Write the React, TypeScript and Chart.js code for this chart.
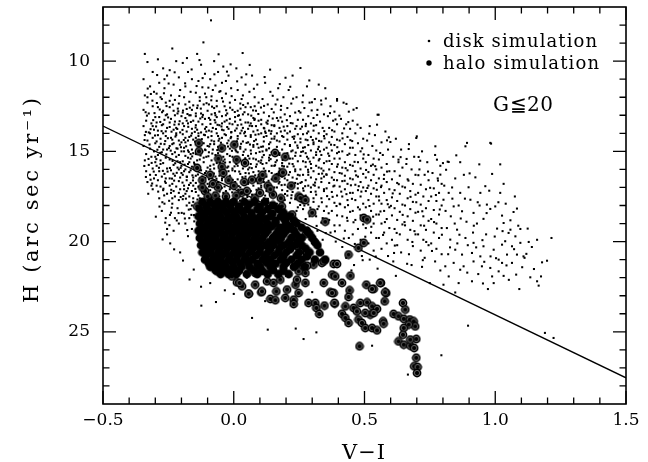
import { useEffect, useRef } from "react";
import { Chart, registerables } from "chart.js";

Chart.register(...registerables);

// Axis ticks
const xTickValues = [-0.5, 0, 0.5, 1.0, 1.5];
const yTickValues = [10, 15, 20, 25];

// Separating line in the reduced proper motion diagram
const fitLineVI = [-0.5, 1.5];
const fitLineH = [13.6, 27.55];

// Disk simulation stars: [V-I, H]
const diskPoints: [number, number][] = [
  [-0.34,9.6],[-0.33,10.05],[-0.31,10.6],[-0.345,11.0],[-0.32,11.4],[-0.305,11.7],[-0.34,11.9],[-0.33,12.3],[-0.31,12.5],[-0.345,12.7],[-0.325,12.9],[-0.3,13.1],[-0.335,13.3],[-0.315,13.45],[-0.345,13.6],[-0.305,13.8],[-0.325,13.95],[-0.34,14.1],[-0.31,14.25],[-0.33,14.4],[-0.3,14.55],[-0.345,14.7],[-0.32,14.85],[-0.305,15.0],[-0.335,15.15],[-0.315,15.3],[-0.34,15.5],[-0.3,15.6],[-0.325,15.75],[-0.31,15.95],[-0.335,16.1],[-0.32,16.3],[-0.305,16.5],[-0.33,16.7],[-0.315,16.9],[-0.31,17.1],[-0.33,12.0],[-0.31,13.6],[-0.32,14.0],[-0.3,15.3],
  [-0.29,9.9],[-0.27,10.4],[-0.255,10.8],[-0.285,11.2],[-0.265,11.5],[-0.295,11.8],[-0.275,12.1],[-0.26,12.3],[-0.29,12.55],[-0.27,12.75],[-0.255,12.95],[-0.285,13.1],[-0.265,13.25],[-0.295,13.4],[-0.275,13.55],[-0.255,13.7],[-0.29,13.85],[-0.27,14.0],[-0.26,14.15],[-0.28,14.3],[-0.295,14.45],[-0.265,14.6],[-0.285,14.75],[-0.255,14.9],[-0.275,15.05],[-0.29,15.2],[-0.26,15.35],[-0.28,15.5],[-0.27,15.65],[-0.295,15.8],[-0.255,15.95],[-0.285,16.1],[-0.265,16.25],[-0.275,16.4],[-0.29,16.6],[-0.26,16.75],[-0.28,16.95],[-0.27,17.15],[-0.255,17.35],[-0.285,17.6],[-0.265,17.9],[-0.275,18.3],[-0.26,18.7],[-0.255,19.3],[-0.28,12.0],[-0.26,13.0],[-0.29,14.1],[-0.27,14.9],[-0.28,15.7],[-0.26,16.5],[-0.295,16.9],[-0.27,13.5],[-0.265,11.0],
  [-0.235,9.3],[-0.22,10.0],[-0.245,10.5],[-0.21,10.9],[-0.23,11.3],[-0.205,11.6],[-0.24,11.9],[-0.225,12.15],[-0.21,12.35],[-0.245,12.55],[-0.23,12.75],[-0.215,12.9],[-0.2,13.05],[-0.24,13.2],[-0.225,13.35],[-0.21,13.5],[-0.245,13.65],[-0.23,13.8],[-0.205,13.95],[-0.22,14.1],[-0.24,14.25],[-0.21,14.4],[-0.23,14.55],[-0.245,14.7],[-0.215,14.85],[-0.2,15.0],[-0.235,15.15],[-0.22,15.3],[-0.245,15.45],[-0.205,15.6],[-0.23,15.75],[-0.215,15.9],[-0.24,16.05],[-0.2,16.2],[-0.225,16.35],[-0.245,16.5],[-0.21,16.65],[-0.235,16.8],[-0.22,16.95],[-0.205,17.1],[-0.24,17.3],[-0.225,17.5],[-0.21,17.7],[-0.235,17.9],[-0.215,18.15],[-0.24,18.4],[-0.225,18.7],[-0.21,19.0],[-0.243,20.1],[-0.255,19.6],[-0.23,19.4],[-0.205,20.6],[-0.22,14.0],[-0.235,14.6],[-0.21,15.2],[-0.2,15.8],[-0.225,13.0],[-0.245,12.2],[-0.21,16.0],[-0.23,17.2],
  [-0.195,10.1],[-0.175,10.6],[-0.16,11.0],[-0.185,11.4],[-0.165,11.7],[-0.19,12.0],[-0.17,12.25],[-0.155,12.45],[-0.18,12.65],[-0.195,12.85],[-0.165,13.0],[-0.185,13.15],[-0.155,13.3],[-0.175,13.45],[-0.19,13.6],[-0.16,13.75],[-0.18,13.9],[-0.195,14.05],[-0.17,14.2],[-0.155,14.35],[-0.185,14.5],[-0.165,14.65],[-0.19,14.8],[-0.175,14.95],[-0.155,15.1],[-0.185,15.25],[-0.165,15.4],[-0.195,15.55],[-0.175,15.7],[-0.16,15.85],[-0.185,16.0],[-0.17,16.15],[-0.195,16.3],[-0.155,16.45],[-0.18,16.6],[-0.165,16.75],[-0.19,16.9],[-0.175,17.05],[-0.16,17.2],[-0.185,17.35],[-0.17,17.5],[-0.195,17.65],[-0.155,17.8],[-0.18,18.0],[-0.165,18.2],[-0.19,18.45],[-0.17,18.7],[-0.185,19.0],[-0.16,19.3],[-0.175,19.7],[-0.194,21.05],[-0.169,22.1],[-0.153,21.55],[-0.18,13.3],[-0.16,14.0],[-0.19,15.0],[-0.17,15.6],[-0.18,16.4],[-0.155,16.9],[-0.17,13.0],[-0.185,12.4],[-0.16,12.7],[-0.175,14.4],[-0.165,15.15],[-0.19,17.1],[-0.16,18.0],
  [-0.116,8.96],[-0.14,9.6],[-0.125,10.2],[-0.11,10.7],[-0.135,11.1],[-0.12,11.45],[-0.145,11.75],[-0.105,12.0],[-0.13,12.2],[-0.115,12.4],[-0.14,12.6],[-0.1,12.75],[-0.125,12.9],[-0.145,13.05],[-0.11,13.2],[-0.135,13.35],[-0.12,13.5],[-0.105,13.65],[-0.14,13.8],[-0.125,13.95],[-0.11,14.1],[-0.145,14.25],[-0.13,14.4],[-0.115,14.55],[-0.1,14.7],[-0.135,14.85],[-0.12,15.0],[-0.145,15.15],[-0.105,15.3],[-0.13,15.45],[-0.115,15.6],[-0.14,15.75],[-0.1,15.9],[-0.125,16.05],[-0.11,16.2],[-0.145,16.35],[-0.13,16.5],[-0.115,16.65],[-0.1,16.8],[-0.135,16.95],[-0.12,17.1],[-0.145,17.25],[-0.105,17.4],[-0.13,17.6],[-0.115,17.8],[-0.125,22.5],[-0.124,23.55],[-0.12,13.1],[-0.135,14.0],[-0.11,14.9],[-0.14,15.5],[-0.12,16.4],[-0.105,13.9],[-0.13,12.0],[-0.145,12.9],[-0.11,11.8],
  [-0.087,7.74],[-0.075,10.0],[-0.06,10.6],[-0.09,11.0],[-0.07,11.35],[-0.055,11.7],[-0.085,11.95],[-0.065,12.2],[-0.095,12.4],[-0.075,12.6],[-0.055,12.8],[-0.085,12.95],[-0.065,13.1],[-0.09,13.25],[-0.07,13.4],[-0.055,13.55],[-0.08,13.7],[-0.095,13.85],[-0.065,14.0],[-0.085,14.15],[-0.055,14.3],[-0.075,14.45],[-0.09,14.6],[-0.06,14.75],[-0.08,14.9],[-0.095,15.05],[-0.07,15.2],[-0.055,15.35],[-0.085,15.5],[-0.065,15.65],[-0.09,15.8],[-0.075,15.95],[-0.055,16.1],[-0.085,16.25],[-0.07,16.4],[-0.095,16.55],[-0.06,16.7],[-0.08,16.85],[-0.065,17.0],[-0.09,17.15],[-0.075,17.3],[-0.055,17.5],[-0.068,23.35],[-0.09,22.3],[-0.07,13.0],[-0.085,14.4],[-0.06,15.1],[-0.09,16.0],[-0.065,12.5],[-0.08,11.6],
  [-0.04,10.3],[-0.02,10.8],[-0.045,11.2],[-0.01,11.5],[-0.03,11.8],[-0.045,12.05],[-0.015,12.3],[-0.035,12.5],[-0.005,12.7],[-0.025,12.9],[-0.045,13.05],[-0.015,13.2],[-0.035,13.35],[-0.005,13.5],[-0.025,13.65],[-0.045,13.8],[-0.01,13.95],[-0.03,14.1],[-0.045,14.25],[-0.02,14.4],[-0.005,14.55],[-0.035,14.7],[-0.015,14.85],[-0.045,15.0],[-0.025,15.15],[-0.005,15.3],[-0.035,15.45],[-0.015,15.6],[-0.045,15.75],[-0.025,15.9],[-0.005,16.05],[-0.035,16.2],[-0.015,16.35],[-0.045,16.5],[-0.025,16.65],[-0.005,16.8],[-0.035,16.95],[-0.015,17.1],[-0.04,17.3],[-0.02,17.5],[-0.034,22.7],[-0.03,13.0],[-0.01,14.2],[-0.04,15.3],[-0.02,16.1],[-0.03,11.1],
  [0.034,9.55],[0.01,10.4],[0.03,10.9],[0.045,11.3],[0.015,11.6],[0.035,11.9],[0.005,12.15],[0.025,12.35],[0.045,12.55],[0.015,12.75],[0.035,12.95],[0.005,13.1],[0.025,13.25],[0.045,13.4],[0.015,13.55],[0.035,13.7],[0.005,13.85],[0.025,14.0],[0.045,14.15],[0.015,14.3],[0.035,14.45],[0.005,14.6],[0.025,14.75],[0.045,14.9],[0.015,15.05],[0.035,15.2],[0.005,15.35],[0.025,15.5],[0.045,15.65],[0.015,15.8],[0.035,15.95],[0.005,16.1],[0.025,16.25],[0.045,16.4],[0.015,16.55],[0.035,16.7],[0.005,16.85],[0.025,17.0],[0.045,17.2],[0.015,17.4],[0.035,17.6],[0.02,13.0],[0.04,14.0],[0.01,15.0],[0.03,12.1],
  [0.07,10.8],[0.09,11.3],[0.06,11.7],[0.08,12.0],[0.095,12.3],[0.065,12.55],[0.085,12.75],[0.055,12.95],[0.075,13.15],[0.095,13.3],[0.065,13.45],[0.085,13.6],[0.055,13.75],[0.075,13.9],[0.095,14.05],[0.065,14.2],[0.085,14.35],[0.055,14.5],[0.075,14.65],[0.095,14.8],[0.065,14.95],[0.085,15.1],[0.055,15.25],[0.075,15.4],[0.095,15.55],[0.065,15.7],[0.085,15.85],[0.055,16.0],[0.075,16.15],[0.095,16.3],[0.065,16.45],[0.085,16.6],[0.055,16.75],[0.075,16.9],[0.095,17.05],[0.065,17.2],[0.085,17.4],[0.07,24.23],[0.07,13.6],[0.09,14.6],[0.06,15.4],[0.08,12.5],
  [0.12,11.2],[0.14,11.7],[0.11,12.1],[0.13,12.4],[0.145,12.65],[0.115,12.85],[0.135,13.05],[0.105,13.25],[0.125,13.4],[0.145,13.55],[0.115,13.7],[0.135,13.85],[0.105,14.0],[0.125,14.15],[0.145,14.3],[0.115,14.45],[0.135,14.6],[0.105,14.75],[0.125,14.9],[0.145,15.05],[0.115,15.2],[0.135,15.35],[0.105,15.5],[0.125,15.65],[0.145,15.8],[0.115,15.95],[0.135,16.1],[0.105,16.25],[0.125,16.4],[0.145,16.55],[0.115,16.7],[0.135,16.85],[0.105,17.0],[0.125,17.2],[0.145,17.4],[0.115,17.6],[0.13,24.88],[0.12,13.9],[0.14,14.5],[0.11,15.7],
  [0.17,11.5],[0.19,12.0],[0.16,12.4],[0.18,12.7],[0.195,12.95],[0.165,13.15],[0.185,13.35],[0.155,13.55],[0.175,13.7],[0.195,13.85],[0.165,14.0],[0.185,14.15],[0.155,14.3],[0.175,14.45],[0.195,14.6],[0.165,14.75],[0.185,14.9],[0.155,15.05],[0.175,15.2],[0.195,15.35],[0.165,15.5],[0.185,15.65],[0.155,15.8],[0.175,15.95],[0.195,16.1],[0.165,16.25],[0.185,16.4],[0.155,16.55],[0.175,16.7],[0.195,16.85],[0.165,17.0],[0.185,17.15],[0.155,17.3],[0.175,17.5],[0.195,17.7],[0.165,17.9],[0.185,18.1],[0.17,13.3],[0.19,14.2],[0.16,15.6],
  [0.225,10.8],[0.21,11.6],[0.24,12.0],[0.22,12.35],[0.205,12.6],[0.235,12.85],[0.215,13.05],[0.245,13.25],[0.225,13.45],[0.205,13.6],[0.235,13.75],[0.215,13.9],[0.245,14.05],[0.225,14.2],[0.205,14.35],[0.235,14.5],[0.215,14.65],[0.245,14.8],[0.225,14.95],[0.205,15.1],[0.235,15.25],[0.215,15.4],[0.245,15.55],[0.225,15.7],[0.205,15.85],[0.235,16.0],[0.215,16.15],[0.245,16.3],[0.225,16.45],[0.205,16.6],[0.235,16.75],[0.215,16.9],[0.245,17.05],[0.225,17.25],[0.205,17.45],[0.235,17.65],[0.215,17.85],[0.245,18.1],[0.225,18.35],[0.21,18.7],[0.237,24.82],[0.24,13.6],[0.22,15.0],
  [0.255,10.38],[0.28,11.4],[0.265,11.9],[0.29,12.3],[0.27,12.6],[0.255,12.85],[0.285,13.05],[0.265,13.25],[0.295,13.45],[0.275,13.6],[0.255,13.75],[0.285,13.9],[0.265,14.05],[0.295,14.2],[0.275,14.35],[0.255,14.5],[0.285,14.65],[0.265,14.8],[0.295,14.95],[0.275,15.1],[0.255,15.25],[0.285,15.4],[0.265,15.55],[0.295,15.7],[0.275,15.85],[0.255,16.0],[0.285,16.15],[0.265,16.3],[0.295,16.45],[0.275,16.6],[0.255,16.75],[0.285,16.9],[0.265,17.05],[0.295,17.25],[0.275,17.45],[0.255,17.7],[0.285,17.95],[0.265,18.2],[0.295,18.45],[0.275,18.75],[0.26,19.1],[0.29,19.5],[0.267,25.4],[0.28,14.0],
  [0.325,11.3],[0.35,11.5],[0.31,12.1],[0.335,12.4],[0.32,12.7],[0.345,12.95],[0.305,13.15],[0.33,13.35],[0.315,13.55],[0.34,13.7],[0.305,13.85],[0.325,14.0],[0.345,14.15],[0.315,14.3],[0.335,14.45],[0.305,14.6],[0.325,14.75],[0.345,14.9],[0.315,15.05],[0.335,15.2],[0.305,15.35],[0.325,15.5],[0.345,15.65],[0.315,15.8],[0.335,15.95],[0.305,16.1],[0.325,16.25],[0.345,16.4],[0.315,16.55],[0.335,16.7],[0.305,16.85],[0.325,17.0],[0.345,17.2],[0.315,17.4],[0.335,17.6],[0.305,17.8],[0.325,18.05],[0.345,18.3],[0.315,18.6],[0.335,18.95],[0.32,19.4],[0.34,19.9],[0.316,25.03],
  [0.395,12.1],[0.37,12.5],[0.385,12.8],[0.36,13.05],[0.38,13.3],[0.395,13.5],[0.365,13.7],[0.385,13.9],[0.355,14.05],[0.375,14.2],[0.395,14.35],[0.365,14.5],[0.385,14.65],[0.355,14.8],[0.375,14.95],[0.395,15.1],[0.365,15.25],[0.385,15.4],[0.355,15.55],[0.375,15.7],[0.395,15.85],[0.365,16.0],[0.385,16.15],[0.355,16.3],[0.375,16.45],[0.395,16.6],[0.365,16.75],[0.385,16.9],[0.355,17.05],[0.375,17.25],[0.395,17.45],[0.365,17.65],[0.385,17.85],[0.355,18.05],[0.375,18.3],[0.395,18.55],[0.365,18.8],[0.385,19.1],[0.37,19.5],[0.39,20.0],
  [0.42,12.3],[0.44,12.8],[0.41,13.2],[0.43,13.5],[0.445,13.75],[0.415,14.0],[0.435,14.2],[0.405,14.4],[0.425,14.6],[0.445,14.8],[0.415,15.0],[0.435,15.2],[0.405,15.4],[0.425,15.6],[0.445,15.75],[0.415,15.9],[0.435,16.05],[0.405,16.2],[0.425,16.35],[0.445,16.5],[0.415,16.65],[0.435,16.8],[0.405,16.95],[0.425,17.1],[0.445,17.3],[0.415,17.5],[0.435,17.7],[0.405,17.9],[0.425,18.1],[0.445,18.35],[0.415,18.6],[0.435,18.85],[0.405,19.1],[0.425,19.4],[0.44,19.8],[0.415,20.3],[0.43,20.9],
  [0.47,12.6],[0.455,13.3],[0.485,13.7],[0.465,14.0],[0.495,14.3],[0.475,14.55],[0.455,14.8],[0.485,15.0],[0.465,15.2],[0.495,15.4],[0.475,15.6],[0.455,15.8],[0.485,15.95],[0.465,16.1],[0.495,16.25],[0.475,16.4],[0.455,16.55],[0.485,16.7],[0.465,16.85],[0.495,17.0],[0.475,17.15],[0.455,17.3],[0.485,17.5],[0.465,17.7],[0.495,17.9],[0.475,18.1],[0.455,18.3],[0.485,18.55],[0.465,18.8],[0.495,19.05],[0.475,19.3],[0.455,19.6],[0.485,19.9],[0.47,20.3],[0.49,20.8],[0.46,21.3],
  [0.554,12.97],[0.52,13.6],[0.54,14.1],[0.51,14.4],[0.53,14.7],[0.545,14.95],[0.515,15.2],[0.535,15.4],[0.505,15.6],[0.525,15.8],[0.545,16.0],[0.515,16.15],[0.535,16.3],[0.505,16.45],[0.525,16.6],[0.545,16.75],[0.515,16.9],[0.535,17.05],[0.505,17.2],[0.525,17.35],[0.545,17.5],[0.515,17.7],[0.535,17.9],[0.505,18.1],[0.525,18.3],[0.545,18.5],[0.515,18.75],[0.535,19.0],[0.505,19.25],[0.525,19.5],[0.545,19.8],[0.515,20.1],[0.535,20.5],[0.52,21.0],[0.529,25.77],
  [0.58,13.9],[0.565,14.5],[0.59,14.9],[0.57,15.2],[0.555,15.45],[0.585,15.7],[0.565,15.9],[0.595,16.1],[0.575,16.3],[0.555,16.5],[0.585,16.7],[0.565,16.9],[0.595,17.1],[0.575,17.3],[0.555,17.5],[0.585,17.7],[0.565,17.9],[0.595,18.1],[0.575,18.3],[0.555,18.5],[0.585,18.75],[0.565,19.0],[0.595,19.25],[0.575,19.5],[0.555,19.8],[0.585,20.1],[0.565,20.4],[0.59,20.8],
  [0.62,14.3],[0.64,14.9],[0.61,15.3],[0.63,15.6],[0.645,15.9],[0.615,16.1],[0.635,16.35],[0.605,16.55],[0.625,16.75],[0.645,16.95],[0.615,17.15],[0.635,17.35],[0.605,17.55],[0.625,17.75],[0.645,17.95],[0.615,18.15],[0.635,18.35],[0.605,18.55],[0.625,18.8],[0.645,19.05],[0.615,19.3],[0.635,19.6],[0.605,19.9],[0.625,20.2],[0.64,20.6],[0.61,21.1],
  [0.67,14.6],[0.69,15.3],[0.66,15.7],[0.68,16.0],[0.695,16.3],[0.665,16.55],[0.685,16.8],[0.655,17.0],[0.675,17.2],[0.695,17.4],[0.665,17.6],[0.685,17.8],[0.655,18.0],[0.675,18.2],[0.695,18.4],[0.665,18.6],[0.685,18.85],[0.655,19.1],[0.675,19.35],[0.695,19.6],[0.665,19.9],[0.685,20.25],[0.67,20.7],[0.666,27.37],
  [0.72,15.0],[0.74,15.6],[0.71,16.0],[0.73,16.3],[0.745,16.6],[0.715,16.85],[0.735,17.1],[0.705,17.3],[0.725,17.5],[0.745,17.75],[0.715,17.95],[0.735,18.15],[0.705,18.35],[0.725,18.6],[0.745,18.85],[0.715,19.1],[0.735,19.35],[0.705,19.6],[0.725,19.9],[0.745,20.2],[0.715,20.5],[0.73,20.9],[0.72,21.4],
  [0.77,15.2],[0.79,15.8],[0.76,16.2],[0.78,16.5],[0.795,16.8],[0.765,17.05],[0.785,17.3],[0.755,17.5],[0.775,17.75],[0.795,18.0],[0.765,18.25],[0.785,18.5],[0.755,18.75],[0.775,19.0],[0.795,19.25],[0.765,19.5],[0.785,19.8],[0.755,20.1],[0.775,20.4],[0.795,20.7],[0.77,21.1],[0.79,21.6],[0.794,26.3],
  [0.8,15.65],[0.79,16.29],[0.822,15.59],[0.847,16.5],[0.822,17.3],[0.802,17.68],[0.841,18.05],[0.815,19.25],[0.828,19.89],[0.847,20.45],[0.841,21.18],[0.809,21.37],[0.802,22.39],[0.822,21.93],[0.83,18.6],[0.81,18.3],[0.845,19.0],[0.82,20.7],[0.805,16.9],[0.835,17.0],
  [0.886,14.72],[0.866,15.6],[0.898,16.99],[0.866,17.3],[0.905,17.68],[0.873,18.32],[0.854,19.34],[0.886,19.8],[0.873,20.72],[0.879,21.37],[0.86,22.3],[0.866,21.56],[0.896,24.66],[0.89,18.9],[0.86,18.0],[0.88,16.3],[0.895,20.2],[0.855,20.1],
  [0.939,15.72],[0.924,16.44],[0.943,17.3],[0.917,18.41],[0.917,20.07],[0.911,20.63],[0.943,20.82],[0.949,21.37],[0.917,21.1],[0.911,22.2],[0.93,19.0],[0.94,18.0],[0.915,19.5],[0.935,21.8],
  [0.984,14.57],[0.988,16.25],[0.977,17.18],[0.962,16.93],[1.0,18.05],[0.968,17.95],[0.981,18.19],[0.955,18.74],[1.007,19.28],[0.955,20.26],[0.994,20.45],[0.981,21.46],[0.988,21.93],[0.994,22.3],[0.972,22.63],[0.965,19.6],
  [1.019,15.72],[1.032,16.8],[1.019,17.3],[1.026,18.56],[1.032,18.97],[1.038,19.98],[1.026,20.17],[1.045,20.72],[1.013,21.0],[1.026,21.18],[1.013,21.65],[1.032,21.9],[1.051,19.52],[1.04,17.9],
  [1.07,18.36],[1.083,18.17],[1.058,19.34],[1.077,19.71],[1.096,20.07],[1.064,20.26],[1.083,20.72],[1.064,21.18],[1.08,21.83],[1.092,22.63],[1.096,19.3],[1.075,17.5],
  [1.124,19.28],[1.119,20.68],[1.112,20.9],[1.108,20.82],[1.134,21.98],[1.16,22.2],[1.166,22.44],[1.175,21.93],[1.179,21.15],[1.198,21.06],[1.215,19.8],[1.19,25.06],[1.223,25.34],[1.14,20.3],[1.16,19.9],
  [0.55,21.5],[0.62,21.9],[0.75,22.3],[0.68,21.3],[0.45,21.6],[0.4,21.3],[0.58,22.6],[0.0,22.9],[0.05,22.0],[0.2,21.9],[0.3,22.8],[0.12,23.3],
  [0.299,12.28],[0.395,12.19],[0.458,12.69],[0.55,12.97],[0.586,14.39],[0.599,14.48],[0.698,14.26],[0.669,14.87],[0.707,15.31],[0.777,15.46],[0.818,15.57],[0.63,15.46],[0.56,15.09],[0.7,14.17],[0.771,14.72],[0.892,14.53],[0.981,14.53],
  [-0.245,13.4],[-0.235,14.35],[-0.225,15.05],[-0.215,15.55],[-0.205,16.45],[-0.245,16.9],[-0.235,17.6],[-0.22,13.7],[-0.2,14.5],[-0.21,17.3],
  [-0.195,13.45],[-0.185,14.25],[-0.175,15.35],[-0.165,16.05],[-0.155,17.6],[-0.19,16.1],[-0.18,17.2],[-0.17,17.85],[-0.16,14.9],[-0.15,15.7],
  [-0.145,13.55],[-0.135,14.15],[-0.125,14.65],[-0.115,15.35],[-0.105,16.1],[-0.145,16.75],[-0.135,17.45],[-0.12,17.9],[-0.1,17.6],[-0.11,13.75],
  [-0.095,13.15],[-0.085,13.9],[-0.075,14.6],[-0.065,15.45],[-0.055,16.35],[-0.095,16.95],[-0.085,17.55],[-0.07,17.75],[-0.06,14.15],[-0.05,15.85],
  [-0.045,13.45],[-0.035,14.05],[-0.025,14.55],[-0.015,15.25],[-0.005,15.95],[-0.045,16.6],[-0.03,17.2],[-0.01,17.7],[-0.02,13.75],[-0.04,15.55],
  [0.005,13.35],[0.015,14.15],[0.025,14.85],[0.035,15.55],[0.045,16.2],[0.005,16.7],[0.02,17.3],[0.04,17.8],[0.03,13.85],[0.01,15.7],
  [0.055,13.4],[0.065,14.1],[0.075,14.75],[0.085,15.45],[0.095,16.1],[0.055,16.8],[0.07,17.4],[0.09,17.75],[0.08,13.2],[0.06,15.9],
  [0.105,13.5],[0.115,14.2],[0.125,14.95],[0.135,15.5],[0.145,16.2],[0.105,16.9],[0.12,17.45],[0.14,17.85],[0.13,13.3],[0.11,15.0],
  [0.155,13.6],[0.165,14.4],[0.175,15.1],[0.185,15.8],[0.195,16.5],[0.155,17.0],[0.17,17.6],[0.19,18.0],[0.18,13.9],[0.16,16.3],
  [0.205,14.0],[0.215,14.7],[0.225,15.4],[0.235,16.1],[0.245,16.8],[0.205,17.2],[0.22,17.6],[0.24,18.3],[0.23,14.3],[0.21,16.3],
  [0.255,14.3],[0.265,15.0],[0.275,15.6],[0.285,16.3],[0.295,17.0],[0.255,17.4],[0.27,18.0],[0.29,18.6],[0.28,15.3],[0.26,16.7],
  [0.305,14.5],[0.315,15.2],[0.325,15.9],[0.335,16.5],[0.345,17.1],[0.305,17.6],[0.32,18.2],[0.34,18.7],[0.33,15.0],[0.31,16.9],
  [-0.337,12.83],[-0.322,14.62],[-0.308,13.27],[-0.296,15.43],[-0.283,12.68],[-0.271,16.08],[-0.262,14.43],[-0.251,13.12],[-0.244,15.92],[-0.233,12.41],[-0.228,16.62],[-0.219,14.83],[-0.207,13.33],[-0.342,15.81],[-0.318,16.57],[-0.301,14.12],[-0.289,17.23],[-0.276,13.88],[-0.258,15.17],[-0.247,17.74],[-0.238,13.91],[-0.224,15.66],[-0.212,12.78],[-0.203,17.53],[-0.329,11.52],[-0.311,12.19],[-0.293,10.77],[-0.267,11.78],[-0.249,11.24],[-0.226,10.62],[-0.208,11.93],[-0.336,13.92],[-0.314,15.64],[-0.298,16.31],[-0.279,14.58],[-0.266,17.44],[-0.253,16.12],[-0.241,14.96],[-0.231,16.24],[-0.216,13.76],[-0.202,14.77],[-0.327,17.35],[-0.284,18.06],[-0.262,18.95],[-0.237,18.12],[-0.218,18.83],[-0.199,18.41],[-0.246,19.09],[-0.272,19.88],[-0.228,20.43],[-0.298,18.62],
  [-0.196,13.81],[-0.188,15.74],[-0.177,12.93],[-0.171,16.86],[-0.163,14.13],[-0.152,15.62],[-0.147,17.08],[-0.138,12.46],[-0.131,15.88],[-0.122,14.32],[-0.113,16.92],[-0.104,12.33],[-0.097,15.27],[-0.089,13.48],[-0.081,16.62],[-0.072,12.88],[-0.063,14.93],[-0.054,17.23],[-0.047,13.62],[-0.038,16.43],[-0.029,12.72],[-0.021,15.84],[-0.012,14.27],[-0.004,16.58],[-0.193,17.47],[-0.182,14.72],[-0.174,13.64],[-0.158,16.33],[-0.149,13.92],[-0.141,16.02],[-0.128,13.18],[-0.117,17.32],[-0.108,14.93],[-0.093,16.38],[-0.086,12.17],[-0.077,15.73],[-0.068,13.76],[-0.057,16.88],[-0.049,14.52],[-0.041,12.24],[-0.033,15.62],[-0.024,17.34],[-0.016,13.46],[-0.007,14.97],[-0.186,11.23],[-0.161,10.46],[-0.142,11.38],[-0.119,10.94],[-0.097,11.47],[-0.074,10.73],[-0.051,11.66],[-0.026,10.58],[-0.008,11.94],[-0.179,9.83],[-0.131,9.94],[-0.058,9.62],[-0.012,10.18],[-0.162,18.52],[-0.178,19.36],[-0.151,18.88],
  [0.004,12.82],[0.012,14.44],[0.021,16.12],[0.029,13.51],[0.038,15.02],[0.047,17.07],[0.054,12.34],[0.062,14.62],[0.071,16.43],[0.079,13.26],[0.088,15.72],[0.096,17.24],[0.104,12.57],[0.112,14.73],[0.121,16.08],[0.129,13.47],[0.138,15.21],[0.146,17.03],[0.153,12.84],[0.162,14.93],[0.171,16.32],[0.179,13.12],[0.187,15.48],[0.196,17.36],[0.008,15.63],[0.017,17.12],[0.026,12.63],[0.043,13.92],[0.058,16.22],[0.067,13.02],[0.083,14.08],[0.092,16.77],[0.109,15.33],[0.117,13.73],[0.133,16.63],[0.142,14.02],[0.158,15.77],[0.167,12.13],[0.183,16.87],[0.191,13.63],[0.013,11.12],[0.048,10.73],[0.077,11.53],[0.118,10.88],[0.149,11.92],[0.176,11.27],[0.198,10.92],[0.061,10.21],[0.139,10.47],[0.187,17.83],[0.157,18.37],[0.198,18.72],
  [0.203,13.27],[0.212,15.68],[0.221,17.43],[0.232,14.17],[0.241,16.52],[0.249,12.77],[0.258,15.03],[0.267,17.18],[0.276,13.48],[0.284,16.02],[0.293,18.12],[0.302,14.37],[0.311,16.73],[0.319,12.98],[0.328,15.42],[0.337,17.82],[0.346,13.88],[0.354,16.27],[0.363,18.43],[0.372,14.63],[0.381,16.94],[0.389,13.23],[0.398,15.72],[0.407,17.93],[0.416,14.28],[0.424,16.63],[0.433,18.68],[0.442,15.13],[0.208,18.83],[0.227,12.08],[0.246,18.93],[0.263,12.28],[0.281,19.23],[0.298,12.73],[0.317,19.13],[0.334,12.18],[0.352,19.53],[0.368,12.88],[0.387,19.43],[0.404,13.02],[0.421,19.83],[0.438,13.38],[0.216,16.77],[0.237,15.07],[0.254,17.97],[0.272,14.77],[0.291,15.57],[0.308,18.27],[0.326,14.42],[0.343,16.07],[0.361,15.12],[0.378,17.52],[0.396,14.77],[0.413,16.23],[0.431,17.37],[0.448,16.88],[0.216,11.42],[0.289,11.07],[0.352,12.07],[0.431,12.37],
  [0.453,14.43],[0.468,16.33],[0.482,18.22],[0.497,15.17],[0.511,17.03],[0.526,19.18],[0.541,15.82],[0.556,17.72],[0.571,19.63],[0.586,16.12],[0.601,18.02],[0.616,20.22],[0.631,16.82],[0.646,18.52],[0.661,15.42],[0.676,17.52],[0.691,19.42],[0.706,16.32],[0.721,18.32],[0.736,20.02],[0.751,17.02],[0.766,18.92],[0.781,16.62],[0.796,19.62],[0.458,18.93],[0.473,13.52],[0.488,17.23],[0.503,19.73],[0.518,14.02],[0.533,18.62],[0.548,13.52],[0.563,16.98],[0.578,18.92],[0.593,14.22],[0.608,17.33],[0.623,19.52],[0.638,15.32],[0.653,18.92],[0.668,16.62],[0.683,20.02],[0.698,17.82],[0.713,15.52],[0.728,19.12],[0.743,16.12],[0.758,20.52],[0.773,17.42],[0.788,18.22],[0.463,20.13],[0.493,21.03],[0.543,20.83],[0.613,20.63],[0.663,21.23],[0.723,21.03],
  [0.812,16.02],[0.836,17.62],[0.851,15.22],[0.868,18.72],[0.884,17.62],[0.902,16.22],[0.918,19.12],[0.933,17.82],[0.951,19.92],[0.967,18.42],[0.982,20.82],[0.998,19.72],[1.012,17.82],[1.028,19.42],[1.043,21.32],[1.058,18.82],[1.072,20.42],[1.088,19.12],[1.103,21.42],[1.128,20.02],[1.148,21.52],[0.827,20.32],[0.863,19.62],[0.893,21.72],[0.927,20.32],[0.958,21.12],[1.003,20.92],[1.052,22.12],[0.847,22.82],[0.953,22.32],
  [-0.297,13.62],[-0.286,15.91],[-0.274,12.83],[-0.263,16.67],[-0.252,14.27],[-0.239,17.13],[-0.227,13.52],[-0.218,16.19],[-0.206,14.63],[-0.194,12.74],[-0.183,17.62],[-0.172,15.03],[-0.164,13.37],[-0.156,16.61],[-0.148,14.46],[-0.139,17.67],[-0.127,15.23],[-0.118,12.98],[-0.109,16.47],[-0.098,14.22],[-0.091,17.42],[-0.082,15.12],[-0.073,13.27],[-0.066,16.52],[-0.058,14.41],[-0.046,17.03],[-0.039,13.83],[-0.031,16.13],[-0.022,14.73],[-0.014,12.58],[-0.006,17.27],[0.003,15.83],[0.011,13.73],[0.019,16.93],[0.028,14.58],[0.036,12.43],[0.044,15.38],[0.052,17.53],[0.061,13.58],[0.069,15.93],[0.078,14.43],[0.087,17.13],[0.094,12.93],[0.103,15.63],[0.113,16.53],[0.122,13.98],[0.131,17.63],[0.141,15.43],[0.149,13.18],
  [-0.292,14.91],[-0.281,13.37],[-0.269,17.07],[-0.257,12.49],[-0.248,14.82],[-0.236,16.51],[-0.223,14.18],[-0.214,12.63],[-0.203,15.91],[-0.191,14.37],[-0.179,16.41],[-0.168,12.58],[-0.159,15.28],[-0.146,13.68],[-0.137,16.28],[-0.126,12.63],[-0.114,14.08],[-0.103,17.13],[-0.094,14.73],[-0.083,12.52],[-0.076,16.23],[-0.062,13.53],[-0.053,15.63],[-0.043,14.93],[-0.036,17.63],[-0.027,13.28],[-0.018,16.73],[-0.009,13.93],[0.007,14.93],[0.016,13.03],[0.024,17.73],[0.033,16.43],[0.041,12.83],[0.049,14.53],[0.057,17.93],[0.066,15.13],[0.074,12.73],[0.082,16.33],[0.091,13.83],[0.099,15.03],[0.108,17.73],[0.116,12.48],[0.126,16.93],[0.135,14.83],[0.144,13.88],
  [-0.332,13.02],[-0.326,15.42],[-0.317,11.82],[-0.312,16.78],[-0.303,12.88],[-0.341,14.37],[-0.336,16.42],[-0.318,13.77],[-0.306,16.12],[-0.294,12.32],[-0.281,15.08],[-0.273,17.82],[-0.26,13.89],[-0.244,18.52],[-0.234,15.53],[-0.211,18.42],[-0.196,16.73],[-0.187,18.72],[-0.172,18.23],[-0.152,18.53],
  [0.156,14.18],[0.172,16.78],[0.181,12.48],[0.192,15.83],[0.207,16.98],[0.218,13.43],[0.229,15.83],[0.243,14.68],[0.252,16.33],[0.261,13.63],[0.273,16.93],[0.282,14.38],[0.296,15.93],[0.306,13.58],[0.313,17.23],[0.322,14.88],[0.338,16.23],[0.347,14.28],[0.357,17.48],[0.366,15.53],[0.376,13.83],[0.383,16.58],[0.393,18.03],[0.402,15.03],[0.411,17.23],[0.422,13.73],[0.428,15.93],[0.437,17.98],[0.446,14.38],[0.452,17.63],[0.462,15.58],[0.478,16.93],[0.491,14.83],[0.506,16.03],[0.519,18.03],[0.532,15.73],[0.547,17.13],[0.561,18.33],[0.574,16.53],[0.589,17.93],
];

// Halo simulation stars outside the crowded core: [V-I, H]
const haloPoints: [number, number][] = [
  [-0.134,14.55],[0.002,14.63],[-0.046,14.83],[-0.133,15.0],[-0.059,15.4],[0.011,15.46],[0.043,15.64],[0.158,15.09],[0.197,15.3],[-0.046,15.85],[-0.14,15.92],[0.184,16.2],[0.07,16.57],[0.1,16.57],[0.188,16.17],[-0.09,16.3],[-0.02,16.6],[0.13,16.9],[0.248,17.5],[0.267,17.68],[0.255,17.59],[0.274,17.7],[0.184,18.05],[0.223,18.5],[0.497,18.69],[0.51,18.78],[-0.14,18.05],[-0.11,17.2],[-0.06,17.0],[0.03,17.3],[0.08,17.6],[0.15,17.4],[-0.12,16.6],[0.22,16.9],[0.35,18.9],[0.3,18.4],
  [-0.1,17.5],[-0.07,17.45],[-0.03,17.5],[0.01,17.45],[0.05,17.2],[0.1,17.3],[0.14,17.1],[0.18,17.6],[-0.12,17.0],[-0.08,16.8],[0.0,16.9],[0.04,16.7],[0.11,16.3],[-0.04,16.2],[0.16,16.5],
  [-0.064,21.65],[0.012,22.26],[0.032,22.48],[0.057,22.9],[0.105,22.81],[0.082,22.39],[0.14,23.18],[0.159,23.25],[0.197,23.12],[0.229,23.22],[0.229,23.46],[0.286,23.4],[0.312,23.4],[0.316,23.68],[0.327,24.01],[0.347,23.55],[0.386,23.44],
  [0.163,22.76],[0.204,22.66],[0.248,22.85],[0.236,22.39],[0.274,22.29],[0.274,21.74],[0.305,21.28],[0.28,21.34],[0.248,21.65],[0.242,22.11],[0.344,22.29],[0.369,22.81],[0.382,22.85],[0.376,21.83],[0.382,21.24],[0.395,21.24],[0.337,21.18],
  [-0.051,21.47],[-0.077,21.28],[-0.007,21.93],[0.082,21.74],[0.127,22.2],[0.152,22.29],[0.178,22.11],
  [0.388,21.93],[0.446,21.89],[0.414,22.29],[0.507,22.39],[0.535,22.63],[0.563,22.29],[0.583,22.85],[0.577,23.31],[0.443,22.7],[0.439,23.07],[0.376,22.85],[0.385,23.4],
  [0.427,23.59],[0.458,23.68],[0.471,23.87],[0.484,23.4],[0.51,23.37],[0.529,23.59],[0.548,23.73],[0.522,24.05],[0.414,24.0],[0.427,24.23],[0.439,24.51],[0.477,24.32],[0.49,24.51],[0.503,24.79],[0.529,24.79],[0.548,24.92],[0.571,24.42],[0.573,24.55],[0.481,25.8],
  [0.647,23.4],[0.656,23.77],[0.611,24.01],[0.63,24.14],[0.65,24.28],[0.673,24.32],[0.688,24.42],[0.694,24.7],[0.669,24.6],[0.65,24.79],[0.647,25.16],[0.63,25.53],[0.65,25.71],[0.675,25.77],[0.69,25.9],[0.698,25.4],[0.675,25.43],[0.698,26.44],[0.69,26.91],[0.703,26.95],[0.701,27.28],[0.535,23.96],[0.503,23.96],
  [0.439,20.72],[0.477,20.35],[0.497,20.07],[0.344,21.09],[0.28,20.63],[0.216,20.26],[0.242,20.26],[0.178,19.52],[0.277,19.56],[0.529,22.63],[0.56,22.29],[0.579,22.81],[0.057,22.89],[0.108,22.76],[0.022,22.29],
];

// Halo simulation stars in the crowded core, where the symbols merge: [V-I, H]
const haloCorePoints: [number, number][] = [
  [-0.12,17.8],[-0.09,17.8],[-0.06,17.8],[-0.03,17.8],[0.0,17.8],[0.04,17.8],[0.08,17.8],[0.12,17.8],
  [-0.13,18.2],[-0.1,18.2],[-0.07,18.2],[-0.04,18.2],[-0.01,18.2],[0.02,18.2],[0.05,18.2],[0.09,18.2],[0.13,18.2],[0.17,18.2],
  [-0.135,18.6],[-0.11,18.6],[-0.08,18.6],[-0.05,18.6],[-0.02,18.6],[0.01,18.6],[0.04,18.6],[0.07,18.6],[0.1,18.6],[0.14,18.6],[0.18,18.6],[0.21,18.6],
  [-0.13,19.0],[-0.1,19.0],[-0.075,19.0],[-0.05,19.0],[-0.02,19.0],[0.01,19.0],[0.04,19.0],[0.07,19.0],[0.1,19.0],[0.13,19.0],[0.16,19.0],[0.2,19.0],[0.24,19.0],
  [-0.135,19.4],[-0.11,19.4],[-0.08,19.4],[-0.05,19.4],[-0.02,19.4],[0.01,19.4],[0.04,19.4],[0.07,19.4],[0.1,19.4],[0.13,19.4],[0.17,19.4],[0.2,19.4],[0.23,19.4],[0.28,19.4],
  [-0.13,19.8],[-0.1,19.8],[-0.07,19.8],[-0.04,19.8],[-0.01,19.8],[0.02,19.8],[0.05,19.8],[0.08,19.8],[0.11,19.8],[0.15,19.8],[0.18,19.8],[0.22,19.8],[0.26,19.8],[0.3,19.8],
  [-0.125,20.2],[-0.1,20.2],[-0.07,20.2],[-0.04,20.2],[-0.01,20.2],[0.02,20.2],[0.05,20.2],[0.08,20.2],[0.12,20.2],[0.15,20.2],[0.19,20.2],[0.23,20.2],[0.26,20.2],[0.32,20.2],
  [-0.12,20.6],[-0.09,20.6],[-0.06,20.6],[-0.03,20.6],[0.0,20.6],[0.03,20.6],[0.06,20.6],[0.1,20.6],[0.13,20.6],[0.17,20.6],[0.2,20.6],[0.25,20.6],[0.29,20.6],[0.33,20.6],
  [-0.11,21.0],[-0.08,21.0],[-0.05,21.0],[-0.02,21.0],[0.01,21.0],[0.04,21.0],[0.07,21.0],[0.11,21.0],[0.14,21.0],[0.18,21.0],[0.22,21.0],[0.26,21.0],[0.31,21.0],[0.35,21.0],
  [-0.09,21.4],[-0.06,21.4],[-0.03,21.4],[0.0,21.4],[0.03,21.4],[0.06,21.4],[0.1,21.4],[0.14,21.4],[0.19,21.4],[0.23,21.4],[0.27,21.4],
  [-0.05,21.8],[-0.02,21.8],[0.01,21.8],[0.05,21.8],[0.09,21.8],[0.13,21.8],[0.17,21.8],[0.21,21.8],
  [-0.105,18.03],[-0.075,17.96],[-0.045,18.07],[-0.015,17.98],[0.02,18.05],[0.06,17.94],[0.1,18.06],[0.15,17.99],
  [-0.118,18.43],[-0.088,18.36],[-0.058,18.45],[-0.028,18.38],[0.003,18.44],[0.033,18.35],[0.068,18.42],[0.108,18.37],[0.148,18.46],[0.19,18.39],
  [-0.122,18.78],[-0.093,18.84],[-0.063,18.76],[-0.033,18.83],[-0.003,18.77],[0.027,18.85],[0.057,18.78],[0.087,18.82],[0.12,18.75],[0.16,18.84],[0.195,18.79],[0.23,18.83],
  [-0.118,19.22],[-0.088,19.17],[-0.062,19.24],[-0.035,19.16],[-0.005,19.23],[0.025,19.18],[0.055,19.25],[0.085,19.17],[0.115,19.22],[0.145,19.16],[0.18,19.24],[0.215,19.19],[0.26,19.23],
  [-0.122,19.58],[-0.093,19.64],[-0.063,19.57],[-0.035,19.63],[-0.005,19.56],[0.025,19.64],[0.055,19.58],[0.085,19.62],[0.12,19.57],[0.16,19.63],[0.19,19.59],[0.24,19.62],[0.29,19.57],
  [-0.115,20.03],[-0.085,19.97],[-0.055,20.04],[-0.025,19.96],[0.005,20.02],[0.035,19.98],[0.065,20.05],[0.1,19.97],[0.135,20.03],[0.17,19.96],[0.21,20.04],[0.245,19.98],[0.31,20.02],
  [-0.11,20.42],[-0.085,20.37],[-0.055,20.44],[-0.025,20.36],[0.005,20.43],[0.035,20.38],[0.07,20.44],[0.1,20.37],[0.14,20.42],[0.175,20.36],[0.215,20.43],[0.275,20.38],
  [-0.105,20.78],[-0.075,20.84],[-0.045,20.77],[-0.015,20.83],[0.015,20.76],[0.045,20.84],[0.085,20.78],[0.12,20.82],[0.155,20.77],[0.19,20.83],[0.24,20.78],[0.28,20.82],
  [-0.095,21.22],[-0.065,21.17],[-0.035,21.23],[-0.005,21.16],[0.025,21.22],[0.055,21.18],[0.09,21.24],[0.125,21.17],[0.16,21.23],[0.2,21.18],[0.245,21.22],
  [-0.07,21.58],[-0.04,21.63],[-0.01,21.57],[0.02,21.62],[0.075,21.58],[0.11,21.63],[0.15,21.57],[0.19,21.62],
];

const SERIF = '"DejaVu Serif", "Liberation Serif", serif';

// Halo symbol: filled disc with a faint inner ring
function makeHaloMarker(ring: boolean): HTMLCanvasElement {
  const c = document.createElement("canvas");
  c.width = 10;
  c.height = 10;
  const g = c.getContext("2d")!;
  g.fillStyle = "#000";
  g.beginPath();
  g.arc(5, 5, 4.4, 0, Math.PI * 2);
  g.fill();
  if (ring) {
    g.strokeStyle = "#747474";
    g.lineWidth = 0.9;
    g.beginPath();
    g.arc(5, 5, 2.6, 0, Math.PI * 2);
    g.stroke();
  }
  return c;
}

// Draws text left-aligned at x, spread to a given width with letter spacing
function spacedText(ctx: CanvasRenderingContext2D, text: string, x: number, y: number, width: number) {
  const c = ctx as any;
  c.letterSpacing = "0px";
  const w = ctx.measureText(text).width;
  const n = Array.from(text).length;
  const sp = n > 1 ? (width - w) / (n - 1) : 0;
  c.letterSpacing = `${sp}px`;
  ctx.fillText(text, x, y);
  c.letterSpacing = "0px";
}

const framePlugin = {
  id: "frameAndLabels",
  afterDatasetsDraw(chart: any) {
    const { ctx, chartArea: a, scales } = chart;
    const xs = scales.x;
    const ys = scales.y;
    ctx.save();
    ctx.strokeStyle = "#000";
    ctx.lineWidth = 1.6;
    ctx.strokeRect(a.left, a.top, a.right - a.left, a.bottom - a.top);

    ctx.lineWidth = 1.3;
    ctx.beginPath();
    for (let i = -5; i <= 15; i++) {
      const px = xs.getPixelForValue(i / 10);
      const len = i % 5 === 0 ? 13 : 6.5;
      ctx.moveTo(px, a.bottom);
      ctx.lineTo(px, a.bottom - len);
      ctx.moveTo(px, a.top);
      ctx.lineTo(px, a.top + len);
    }
    for (let h = 8; h <= 28; h++) {
      const py = ys.getPixelForValue(h);
      const len = h % 5 === 0 ? 13 : 6.5;
      ctx.moveTo(a.left, py);
      ctx.lineTo(a.left + len, py);
      ctx.moveTo(a.right, py);
      ctx.lineTo(a.right - len, py);
    }
    ctx.stroke();

    ctx.fillStyle = "#000";
    ctx.textBaseline = "alphabetic";
    ctx.textAlign = "left";

    // key
    ctx.beginPath();
    ctx.arc(429, 41, 1.3, 0, Math.PI * 2);
    ctx.fill();
    ctx.beginPath();
    ctx.arc(429, 63, 2.7, 0, Math.PI * 2);
    ctx.fill();
    ctx.font = `18px ${SERIF}`;
    spacedText(ctx, "disk simulation", 443, 46.5, 154);
    spacedText(ctx, "halo simulation", 443, 68.5, 156);
    ctx.font = `20px ${SERIF}`;
    spacedText(ctx, "G\u226620", 493, 110.5, 60);

    // axis titles
    ctx.font = `21px ${SERIF}`;
    spacedText(ctx, "V\u2212I", 342, 458.5, 43);

    ctx.translate(37.5, 303);
    ctx.rotate(-Math.PI / 2);
    spacedText(ctx, "H (arc sec yr\u207B\u00B9)", 0, 0, 205);
    ctx.restore();
  },
};

export default function App() {
  const canvasRef = useRef<HTMLCanvasElement | null>(null);

  useEffect(() => {
    document.body.style.margin = "0";
    const canvas = canvasRef.current;
    if (!canvas) return;

    const chart = new Chart(canvas, {
      type: "scatter",
      data: {
        datasets: [
          {
            label: "halo simulation (core)",
            data: haloCorePoints.map(([x, y]) => ({ x, y })),
            pointStyle: makeHaloMarker(false),
            pointRadius: 4.5,
            order: -1,
          },
          {
            label: "halo simulation",
            data: haloPoints.map(([x, y]) => ({ x, y })),
            pointStyle: makeHaloMarker(true),
            pointRadius: 4.5,
            order: 0,
          },
          {
            label: "disk simulation",
            data: diskPoints.map(([x, y]) => ({ x, y })),
            pointStyle: "rect",
            pointRadius: 1.45,
            backgroundColor: "#000",
            borderWidth: 0,
            order: 1,
          },
          {
            label: "separation",
            type: "line",
            data: fitLineVI.map((x, i) => ({ x, y: fitLineH[i] })),
            borderColor: "#000",
            borderWidth: 1.3,
            pointRadius: 0,
            showLine: true,
            order: 2,
          } as any,
        ],
      },
      options: {
        responsive: false,
        animation: false,
        events: [],
        layout: { padding: { top: 7, right: 22, left: 0, bottom: 0 } },
        plugins: { legend: { display: false }, tooltip: { enabled: false } },
        scales: {
          x: {
            type: "linear",
            min: -0.5,
            max: 1.5,
            grid: { display: false, drawTicks: false },
            border: { display: false },
            afterBuildTicks: (s: any) => {
              s.ticks = xTickValues.map((value) => ({ value }));
            },
            afterFit: (s: any) => {
              s.height = 58;
              s.paddingLeft = 0;
              s.paddingRight = 0;
            },
            ticks: {
              padding: 6,
              color: "#000",
              font: { family: SERIF, size: 17 },
              maxRotation: 0,
              callback: (v: any) => (Number(v) < 0 ? "\u2212" : "") + Math.abs(Number(v)).toFixed(1),
            },
          },
          y: {
            type: "linear",
            reverse: true,
            min: 7,
            max: 29,
            grid: { display: false, drawTicks: false },
            border: { display: false },
            afterBuildTicks: (s: any) => {
              s.ticks = yTickValues.map((value) => ({ value }));
            },
            afterFit: (s: any) => {
              s.width = 103;
              s.paddingTop = 0;
              s.paddingBottom = 0;
            },
            ticks: {
              padding: 13,
              color: "#000",
              font: { family: SERIF, size: 17 },
              callback: (v: any) => String(v),
            },
          },
        },
      },
      plugins: [framePlugin],
    });

    return () => chart.destroy();
  }, []);

  return (
    <div style={{ width: 648, height: 462, background: "#fff" }}>
      <canvas ref={canvasRef} width={648} height={462} />
    </div>
  );
}
